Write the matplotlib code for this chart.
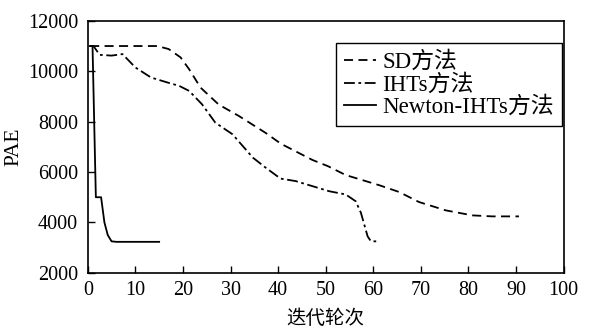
import matplotlib.pyplot as plt

# === Daten ===
sd_x = [0.5, 5, 10, 14.6, 17, 19.5, 21.3, 23.7, 27.5, 31.7, 37.4, 40.6, 47.2, 50.5,
        54.2, 61.2, 65.4, 69.6, 75.2, 80.8, 85, 90.6]
sd_y = [11000, 11000, 11000, 11000, 10880, 10550, 10080, 9350, 8680, 8230, 7550, 7120,
        6480, 6230, 5880, 5480, 5210, 4810, 4480, 4280, 4240, 4240]

iht_x = [0.5, 1.2, 2.5, 5, 7.3, 10, 13.3, 16.8, 19.2, 21.3, 24, 26.8, 30.4, 34.7, 37.4,
         40.5, 43.7, 47.2, 50.7, 54.2, 56.3, 57.4, 58.8, 59.5, 61]
iht_y = [11000, 11000, 10650, 10620, 10680, 10150, 9750, 9550, 9420, 9220, 8690, 7960,
         7500, 6570, 6170, 5740, 5640, 5440, 5240, 5110, 4840, 4380, 3450, 3250, 3250]

newton_x = [0.4, 1.0, 1.7, 2.8, 3.5, 4.2, 5.0, 6, 10, 15]
newton_y = [11000, 11000, 5000, 5000, 4000, 3500, 3250, 3230, 3230, 3230]

xticks = [0, 10, 20, 30, 40, 50, 60, 70, 80, 90, 100]
yticks = [2000, 4000, 6000, 8000, 10000, 12000]

plt.rcParams['font.family'] = ['Liberation Serif', 'Noto Sans CJK SC']
plt.rcParams['font.size'] = 14.5

fig = plt.figure(figsize=(5.89, 3.36), dpi=100)
ax = fig.add_axes([0.149, 0.188, 0.808, 0.75])

ax.plot(sd_x, sd_y, color='black', lw=1.3, linestyle=(0, (5, 3)), label='SD方法')
ax.plot(iht_x, iht_y, color='black', lw=1.3, linestyle=(0, (6, 2, 1.5, 2)), label='IHTs方法')
ax.plot(newton_x, newton_y, color='black', lw=1.3, linestyle='-', label='Newton-IHTs方法')

ax.set_xlim(0, 100)
ax.set_ylim(2000, 12000)
ax.set_xticks(xticks)
ax.set_yticks(yticks)
ax.tick_params(direction='in', length=5, width=1, labelsize=14.5)
ax.tick_params(axis='x', pad=6)
ax.tick_params(axis='y', pad=7)
for s in ax.spines.values():
    s.set_linewidth(1.2)

ax.set_xlabel('迭代轮次', fontsize=14, labelpad=7)
ax.set_ylabel('PAE', fontsize=15.5, labelpad=3)

ax.legend(loc='upper right', bbox_to_anchor=(0.997, 0.911), frameon=True, fancybox=False,
          edgecolor='black', framealpha=1, handlelength=1.4, handletextpad=0.3,
          labelspacing=0.05, borderpad=0.35, borderaxespad=0, fontsize=16.5)

fig.savefig('out.png', dpi=100)
